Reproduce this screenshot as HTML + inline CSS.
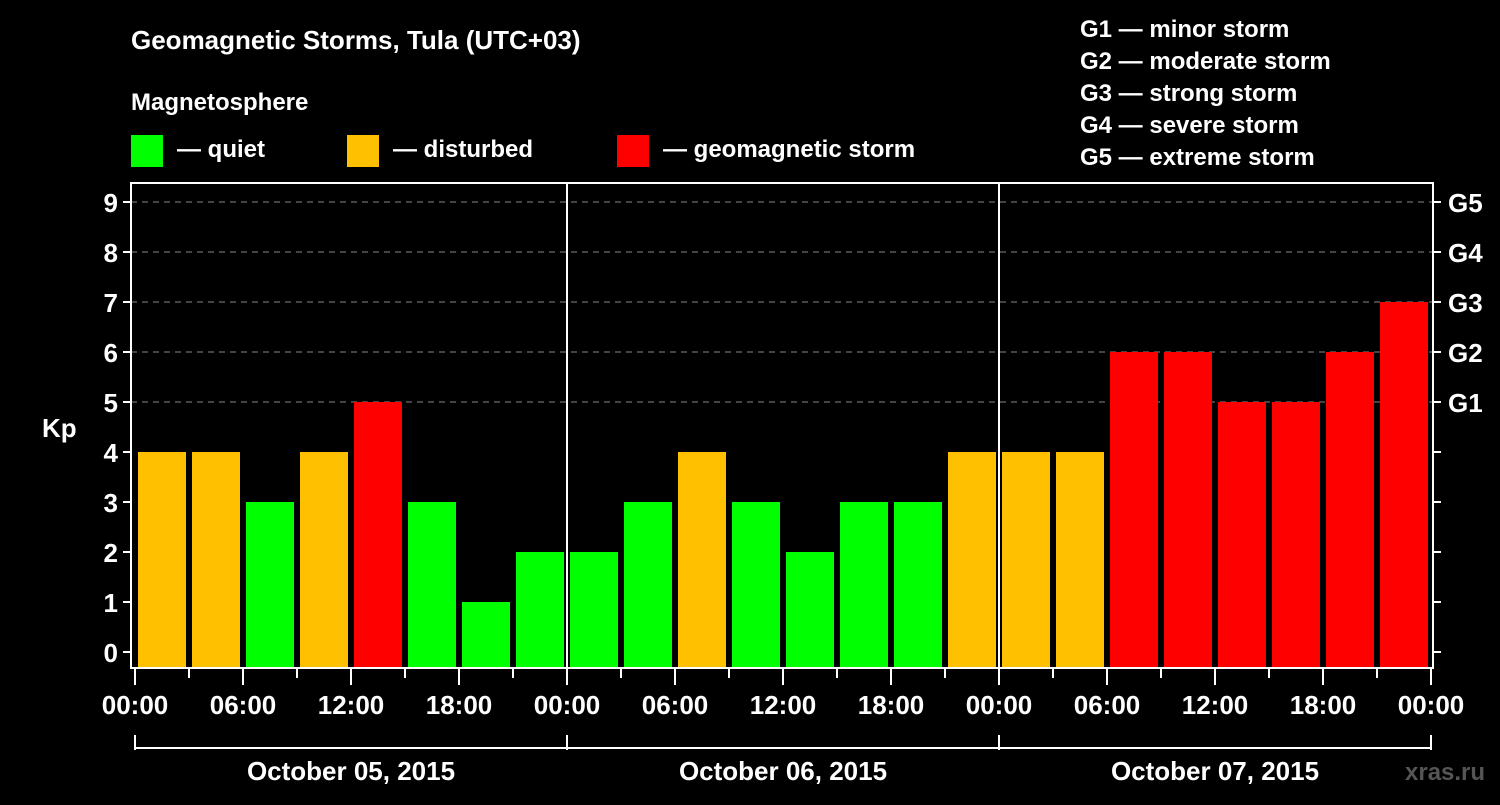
<!DOCTYPE html>
<html><head><meta charset="utf-8"><style>
html,body{margin:0;padding:0;background:#000;}
svg text{font-family:"Liberation Sans",Arial,sans-serif;font-weight:bold;fill:#fff;}
</style></head><body>
<svg id="chart" width="1500" height="800" xmlns="http://www.w3.org/2000/svg">
<rect width="1500" height="800" fill="#000"/>
<text x="131" y="49" font-size="26">Geomagnetic Storms, Tula (UTC+03)</text>
<text x="131" y="110" font-size="24">Magnetosphere</text>
<g>
<rect x="131" y="135" width="32" height="32" fill="#00ff00"/>
<text x="177" y="157" font-size="24">— quiet</text>
<rect x="347" y="135" width="32" height="32" fill="#ffc000"/>
<text x="393" y="157" font-size="24">— disturbed</text>
<rect x="617" y="135" width="32" height="32" fill="#ff0000"/>
<text x="663" y="157" font-size="24">— geomagnetic storm</text>
</g>
<g font-size="24">
<text x="1080" y="37">G1 — minor storm</text>
<text x="1080" y="69">G2 — moderate storm</text>
<text x="1080" y="101">G3 — strong storm</text>
<text x="1080" y="133">G4 — severe storm</text>
<text x="1080" y="165">G5 — extreme storm</text>
</g>
<text x="42" y="437" font-size="26">Kp</text>
<text x="1405" y="780" font-size="24" fill="#555" style="fill:#555">xras.ru</text>
<g id="plot"></g>
</svg>
<script>
const kpValues = [4,4,3,4,5,3,1,2, 2,3,4,3,2,3,3,4, 4,4,6,6,5,5,6,7];
const dayLabels = ["October 05, 2015","October 06, 2015","October 07, 2015"];
const hourLabels = ["00:00","06:00","12:00","18:00"];
const yTicks = [0,1,2,3,4,5,6,7,8,9];
const gLabels = ["G1","G2","G3","G4","G5"];
const gLevels = [5,6,7,8,9];

const NS="http://www.w3.org/2000/svg";
const plot=document.getElementById('plot');
const X0=135, SLOT=54, PL=131, PR=1433, PT=183, PB=668;
const y=v=>652-50*v;
const x=i=>X0+i*SLOT;
function mk(tag,attrs){const e=document.createElementNS(NS,tag);for(const k in attrs)e.setAttribute(k,attrs[k]);plot.appendChild(e);return e;}

gLevels.forEach((g,i)=>{
  const l=mk('line',{x1:PL,x2:PR,y1:y(g),y2:y(g),stroke:'#888','stroke-width':1,'stroke-dasharray':'6,5'});
  
  
  const t=mk('text',{x:1448,y:y(g)+10,'font-size':26});
  t.textContent=gLabels[i];
  
  
});
kpValues.forEach((v,i)=>{
  const c=v>=5?'#ff0000':(v>=4?'#ffc000':'#00ff00');
  const r=mk('rect',{x:x(i)+3,y:y(v),width:48,height:PB-y(v),fill:c});
  
  
});
// frame
const fr=mk('rect',{x:PL,y:PT,width:PR-PL,height:PB-PT,fill:'none',stroke:'#fff','stroke-width':2});


[1,2].forEach(d=>{
  const l=mk('line',{x1:x(d*8),x2:x(d*8),y1:PT,y2:PB,stroke:'#fff','stroke-width':2});
  
  
});
yTicks.forEach(v=>{
  mk('line',{x1:PL-8,x2:PL,y1:y(v),y2:y(v),stroke:'#fff','stroke-width':2});
  mk('line',{x1:PR,x2:PR+8,y1:y(v),y2:y(v),stroke:'#fff','stroke-width':2});
  const t=mk('text',{x:118,y:y(v)+10,'font-size':26,'text-anchor':'end'});
  t.textContent=v;
  
  
});
for(let h=0;h<=72;h+=3){
  const i=h/3, major=h%6===0;
  mk('line',{x1:x(i),x2:x(i),y1:PB,y2:PB+(major?17:10),stroke:'#fff','stroke-width':2});
  if(major){
    const t=mk('text',{x:x(i),y:714,'font-size':26,'text-anchor':'middle'});
    t.textContent=hourLabels[(h%24)/6];
    
    
  }
}
mk('line',{x1:x(0),x2:x(24),y1:748,y2:748,stroke:'#fff','stroke-width':2});
dayLabels.forEach((d,i)=>{
  mk('line',{x1:x(i*8),x2:x(i*8),y1:735,y2:750,stroke:'#fff','stroke-width':2});
  const t=mk('text',{x:x(i*8+4),y:780,'font-size':26,'text-anchor':'middle'});
  t.textContent=d;
  
  
});
mk('line',{x1:x(24),x2:x(24),y1:735,y2:750,stroke:'#fff','stroke-width':2});
</script>
</body></html>
